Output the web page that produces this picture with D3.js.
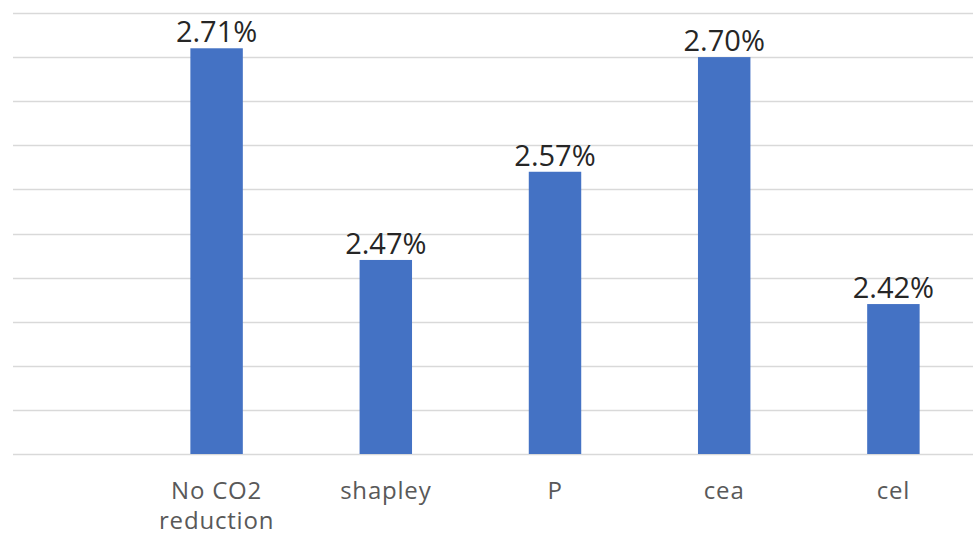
<!DOCTYPE html>
<html>
<head>
<meta charset="utf-8">
<script src="https://cdn.jsdelivr.net/npm/d3@7"></script>
<style>
  html, body { margin: 0; padding: 0; background: #ffffff; }
  svg { display: block; }
</style>
</head>
<body>
<svg id="chart" width="973" height="537"></svg>
<script>
// Scenario names and their average returns (percent)
const categories = [["No CO2", "reduction"], ["shapley"], ["P"], ["cea"], ["cel"]];
const values = [2.71, 2.47, 2.57, 2.70, 2.42];
// Value-axis gridline ticks (percent)
const yTicks = [2.25, 2.30, 2.35, 2.40, 2.45, 2.50, 2.55, 2.60, 2.65, 2.70, 2.75];

const W = 973, H = 537;
const svg = d3.select("#chart");
const keys = categories.map(c => c.join(" "));

const x = d3.scaleBand()
  .domain(keys)
  .range([132, 978])
  .paddingInner(0.69)
  .paddingOuter(0.345);

const y = d3.scaleLinear()
  .domain([2.25, 2.75])
  .range([454, 13]);

// Horizontal gridlines
svg.append("g")
  .selectAll("line")
  .data(yTicks)
  .join("line")
  .attr("x1", 13)
  .attr("x2", W)
  .attr("y1", d => Math.round(y(d)) + 0.5)
  .attr("y2", d => Math.round(y(d)) + 0.5)
  .attr("stroke", "#d9d9d9")
  .attr("stroke-width", 1.5);

// Bars
svg.append("g")
  .selectAll("rect")
  .data(values)
  .join("rect")
  .attr("x", (d, i) => x(keys[i]))
  .attr("width", x.bandwidth())
  .attr("y", d => y(d))
  .attr("height", d => y(2.25) - y(d))
  .attr("fill", "#4472c4");

// Value labels
svg.append("g")
  .selectAll("text")
  .data(values)
  .join("text")
  .attr("x", (d, i) => x(keys[i]) + x.bandwidth() / 2)
  .attr("y", d => y(d) - 6)
  .attr("text-anchor", "middle")
  .attr("font-family", "'Open Sans', sans-serif")
  .attr("font-size", 29)
  .attr("fill", "#262626")
  .text(d => d.toFixed(2) + "%");

// Category labels
const cat = svg.append("g")
  .selectAll("text")
  .data(categories)
  .join("text")
  .attr("x", (d, i) => x(keys[i]) + x.bandwidth() / 2)
  .attr("y", 499)
  .attr("text-anchor", "middle")
  .attr("font-family", "'Open Sans', sans-serif")
  .attr("font-size", 24)
  .attr("letter-spacing", 0.8)
  .attr("fill", "#595959");

cat.selectAll("tspan")
  .data(d => d)
  .join("tspan")
  .attr("x", function () { return d3.select(this.parentNode).attr("x"); })
  .attr("dy", (d, i) => i === 0 ? 0 : 30)
  .text(d => d);
</script>
</body>
</html>
